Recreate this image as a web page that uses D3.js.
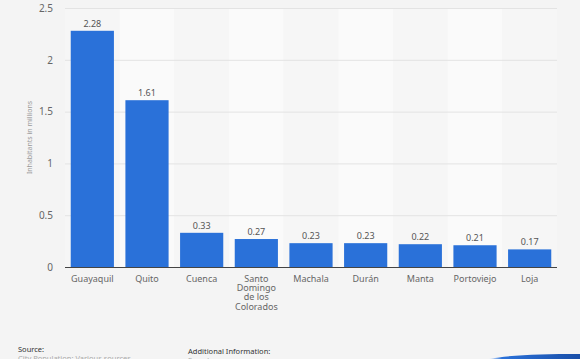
<!DOCTYPE html>
<html><head><meta charset="utf-8">
<script src="https://cdn.jsdelivr.net/npm/d3@7/dist/d3.min.js"></script>
<style>
html,body{margin:0;padding:0;background:#f4f4f4;}
svg{display:block;font-family:"Noto Sans","Open Sans",sans-serif;}
</style></head>
<body><svg id="c" width="580" height="359"></svg>
<script>
const categories = ["Guayaquil","Quito","Cuenca","Santo Domingo de los Colorados","Machala","Durán","Manta","Portoviejo","Loja"];
const categoryLines = [["Guayaquil"],["Quito"],["Cuenca"],["Santo","Domingo","de los","Colorados"],["Machala"],["Durán"],["Manta"],["Portoviejo"],["Loja"]];
const values = [2.28,1.61,0.33,0.27,0.23,0.23,0.22,0.21,0.17];
const valueLabels = ["2.28","1.61","0.33","0.27","0.23","0.23","0.22","0.21","0.17"];
const yTicks = [0,0.5,1,1.5,2,2.5];
const yTickLabels = ["0","0.5","1","1.5","2","2.5"];
const yTitle = "Inhabitants in millions";

const svg = d3.select("#c");
const pL = 65, pR = 557, pT = 8, pB = 267;
const x = d3.scaleBand().domain(categories).range([pL,pR]).paddingInner(0.21).paddingOuter(0.105);
const xb = d3.scaleBand().domain(categories).range([pL,pR]).padding(0);
const y = d3.scaleLinear().domain([0,2.5]).range([pB,pT]);

// alternating column bands
svg.append("g").selectAll("rect").data(categories).join("rect")
  .attr("x", d=>xb(d)).attr("y", pT).attr("width", xb.bandwidth()).attr("height", pB-pT)
  .attr("fill", (d,i)=> i%2 ? "#fafafa" : "#f6f6f6");

// gridlines
svg.append("g").selectAll("line").data(yTicks.filter(t=>t>0)).join("line")
  .attr("x1", pL).attr("x2", pR).attr("y1", d=>y(d)+0.5).attr("y2", d=>y(d)+0.5)
  .attr("stroke", "#e3e3e3").attr("stroke-width", 1);

// y axis labels
const yAxis = d3.axisLeft(y).tickValues(yTicks).tickFormat((d,i)=>yTickLabels[i]).tickSize(0).tickPadding(0);
const ga = svg.append("g").attr("transform", `translate(53,0)`).call(yAxis);
ga.select(".domain").remove();
ga.selectAll("text").attr("fill","#666").attr("font-size","10px").attr("font-family","'Noto Sans',sans-serif");

// y title
svg.append("text").attr("transform", `translate(32,${(pT+pB)/2}) rotate(-90)`)
  .attr("text-anchor","middle").attr("fill","#9a9a9a").attr("font-size","7px").text(yTitle);

// bars
svg.append("g").selectAll("rect").data(values).join("rect")
  .attr("x", (d,i)=>x(categories[i])).attr("y", d=>y(d)).attr("width", x.bandwidth())
  .attr("height", d=>pB-y(d)).attr("fill", "#2a71d9");

// value labels
svg.append("g").selectAll("text").data(values).join("text")
  .attr("x", (d,i)=>x(categories[i])+x.bandwidth()/2).attr("y", d=>y(d)-4)
  .attr("text-anchor","middle").attr("fill","#555").attr("font-size","9px")
  .text((d,i)=>valueLabels[i]);

// baseline
svg.append("line").attr("x1", pL).attr("x2", pR).attr("y1", pB+0.5).attr("y2", pB+0.5)
  .attr("stroke","#444").attr("stroke-width",1);

// category labels
const cl = svg.append("g").selectAll("text").data(categories).join("text")
  .attr("x", d=>x(d)+x.bandwidth()/2).attr("y", 282)
  .attr("text-anchor","middle").attr("fill","#666").attr("font-size","9px");
cl.each(function(d,i){
  const t = d3.select(this);
  categoryLines[i].forEach((ln,j)=>{
    t.append("tspan").attr("x", x(d)+x.bandwidth()/2).attr("dy", j===0?0:9.2).text(ln);
  });
});

// footer
svg.append("text").attr("x",18).attr("y",352).attr("fill","#333").attr("font-size","7.5px").text("Source:");
svg.append("text").attr("x",18).attr("y",360.5).attr("fill","#aaa").attr("font-size","7.5px").text("City Population; Various sources");
svg.append("text").attr("x",188).attr("y",354).attr("fill","#333").attr("font-size","7.5px").text("Additional Information:");
svg.append("text").attr("x",188).attr("y",362.5).attr("fill","#aaa").attr("font-size","7.5px").text("Ecuador");

// blue swoosh
const defs = svg.append("defs");
const lg = defs.append("linearGradient").attr("id","sw").attr("x1","0").attr("x2","1");
lg.append("stop").attr("offset","0").attr("stop-color","#ffffff");
lg.append("stop").attr("offset","0.15").attr("stop-color","#2a71d9");
lg.append("stop").attr("offset","1").attr("stop-color","#1a4fa8");
svg.append("path").attr("d","M488,359 C510,355 540,354 580,354 L580,359 Z").attr("fill","url(#sw)");
</script></body></html>
